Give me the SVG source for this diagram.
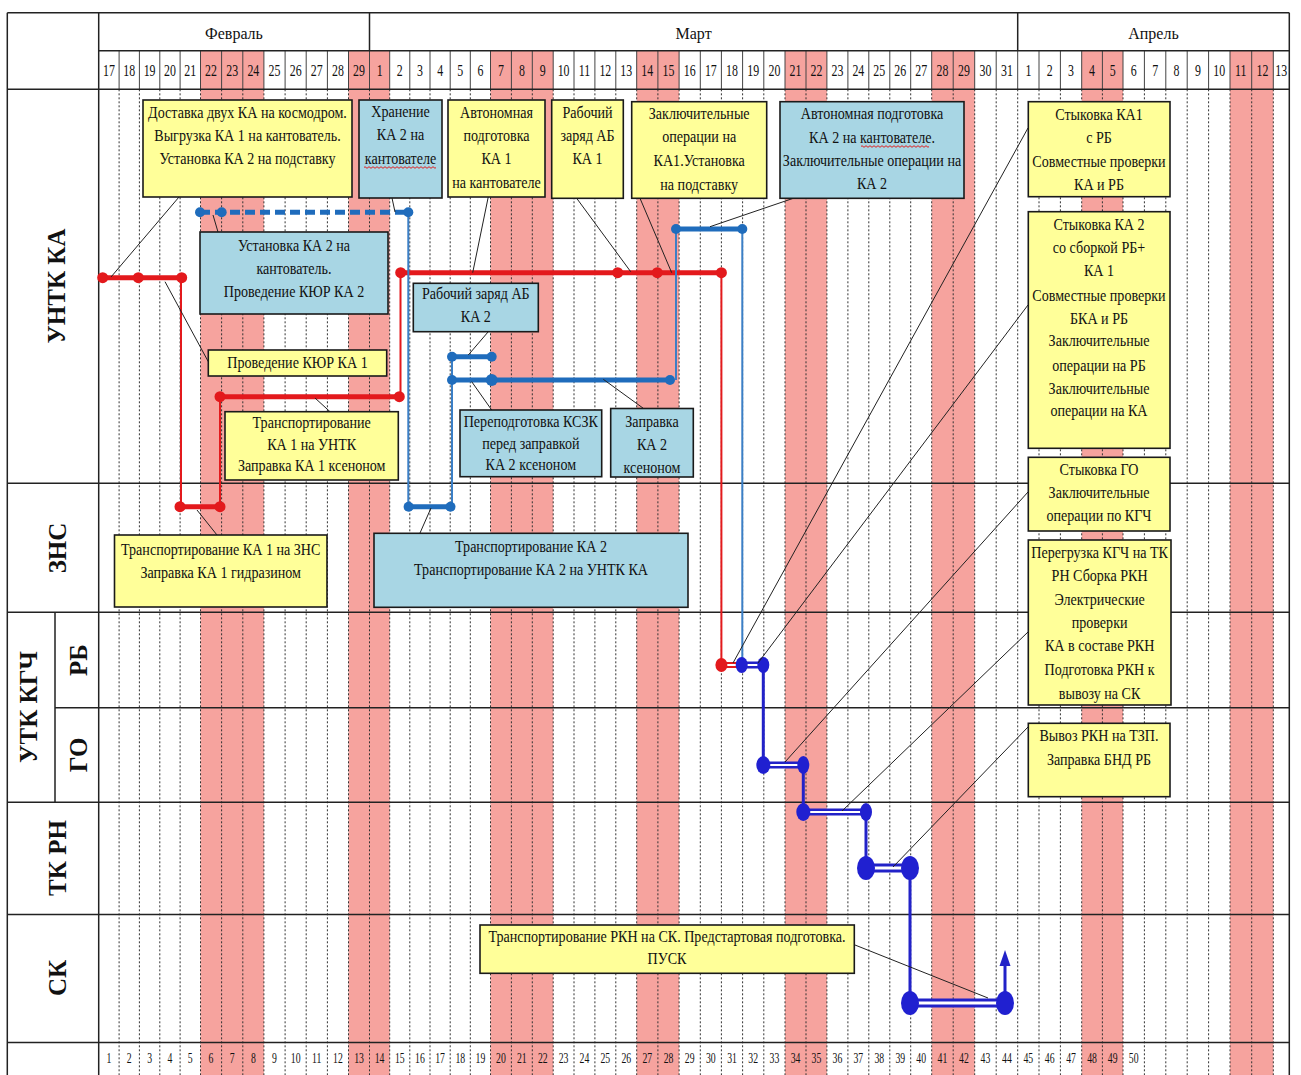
<svg xmlns="http://www.w3.org/2000/svg" width="1301" height="1075" viewBox="0 0 1301 1075">
<style>
.yb{fill:#ffff99;stroke:#1a1a1a;stroke-width:1.6}
.bb{fill:#a8d6e4;stroke:#1a1a1a;stroke-width:1.6}
.t{font-family:"Liberation Serif","Times New Roman",serif;font-size:16px;fill:#111;text-anchor:middle}
.hd{font-family:"Liberation Serif","Times New Roman",serif;font-size:17px;fill:#111;text-anchor:middle}
.bn{font-family:"Liberation Serif","Times New Roman",serif;font-size:15px;fill:#111;text-anchor:middle}
.mo{font-family:"Liberation Serif","Times New Roman",serif;font-size:16px;fill:#111;text-anchor:middle}
.lb{font-family:"Liberation Serif","Times New Roman",serif;font-size:25px;font-weight:bold;fill:#111;text-anchor:middle}
.cn{stroke:#222;stroke-width:1;fill:none}
.pk{fill:#f6a39e}
.dl{stroke:#333;stroke-width:1;stroke-dasharray:2 2;fill:none}
.sl{stroke:#222;stroke-width:1.5;fill:none}
.hl{stroke:#444;stroke-width:1;fill:none}
.red{stroke:#e3191c;stroke-width:5;fill:none}
.redv{stroke:#e3191c;stroke-width:2;fill:none}
.blu{stroke:#1f6cbc;stroke-width:5;fill:none}
.bluv{stroke:#3b7fc6;stroke-width:2;fill:none}
.dash{stroke:#1f6cbc;stroke-width:5;stroke-dasharray:10 5;fill:none}
.dk{stroke:#2222c8;fill:none}
.wh{stroke:#ffffff;fill:none}
.rd{fill:#e3191c}
.bd{fill:#1f6cbc}
.dd{fill:#2020d0}
.wv{stroke:#e02020;stroke-width:1;fill:none}
</style>

<rect x="0" y="0" width="1301" height="1075" fill="#ffffff"/>

<g id="grid">
  <g class="pk">
    <rect x="200.5" y="89.3" width="63.4" height="985.7"/>
    <rect x="348.5" y="89.3" width="41.2" height="985.7"/>
    <rect x="490.5" y="89.3" width="62.7" height="985.7"/>
    <rect x="636.7" y="89.3" width="42.4" height="985.7"/>
    <rect x="785" y="89.3" width="41.9" height="985.7"/>
    <rect x="931.7" y="89.3" width="43" height="985.7"/>
    <rect x="1081.7" y="89.3" width="41.3" height="985.7"/>
    <rect x="1230" y="89.3" width="43.3" height="985.7"/>
    <rect x="200.5" y="50.7" width="63.4" height="38.6"/>
    <rect x="348.5" y="50.7" width="41.2" height="38.6"/>
    <rect x="490.5" y="50.7" width="62.7" height="38.6"/>
    <rect x="636.7" y="50.7" width="42.4" height="38.6"/>
    <rect x="785" y="50.7" width="41.9" height="38.6"/>
    <rect x="931.7" y="50.7" width="43" height="38.6"/>
    <rect x="1081.7" y="50.7" width="41.3" height="38.6"/>
    <rect x="1230" y="50.7" width="43.3" height="38.6"/>
  </g>
  <path class="dl" d="M119.1 89.3V1075M139.4 89.3V1075M159.8 89.3V1075M180.1 89.3V1075M200.5 89.3V1075M221.6 89.3V1075M242.8 89.3V1075M263.9 89.3V1075M285.1 89.3V1075M306.2 89.3V1075M327.4 89.3V1075M348.5 89.3V1075M369.5 89.3V1075M389.7 89.3V1075M409.8 89.3V1075M430 89.3V1075M450.2 89.3V1075M470.3 89.3V1075M490.5 89.3V1075M511.4 89.3V1075M532.3 89.3V1075M553.2 89.3V1075M574 89.3V1075M594.9 89.3V1075M615.8 89.3V1075M636.7 89.3V1075M657.9 89.3V1075M679.1 89.3V1075M700.3 89.3V1075M721.4 89.3V1075M742.6 89.3V1075M763.8 89.3V1075M785 89.3V1075M806 89.3V1075M826.9 89.3V1075M847.9 89.3V1075M868.8 89.3V1075M889.8 89.3V1075M910.7 89.3V1075M931.7 89.3V1075M953.2 89.3V1075M974.7 89.3V1075M996.2 89.3V1075M1017.7 89.3V1075M1039 89.3V1075M1060.4 89.3V1075M1081.7 89.3V1075M1102.4 89.3V1075M1123 89.3V1075M1144.4 89.3V1075M1165.8 89.3V1075M1187.2 89.3V1075M1208.6 89.3V1075M1230 89.3V1075M1251.7 89.3V1075M1273.3 89.3V1075"/>
  <path class="hl" d="M119.1 50.7V89.3M139.4 50.7V89.3M159.8 50.7V89.3M180.1 50.7V89.3M200.5 50.7V89.3M221.6 50.7V89.3M242.8 50.7V89.3M263.9 50.7V89.3M285.1 50.7V89.3M306.2 50.7V89.3M327.4 50.7V89.3M348.5 50.7V89.3M369.5 50.7V89.3M389.7 50.7V89.3M409.8 50.7V89.3M430 50.7V89.3M450.2 50.7V89.3M470.3 50.7V89.3M490.5 50.7V89.3M511.4 50.7V89.3M532.3 50.7V89.3M553.2 50.7V89.3M574 50.7V89.3M594.9 50.7V89.3M615.8 50.7V89.3M636.7 50.7V89.3M657.9 50.7V89.3M679.1 50.7V89.3M700.3 50.7V89.3M721.4 50.7V89.3M742.6 50.7V89.3M763.8 50.7V89.3M785 50.7V89.3M806 50.7V89.3M826.9 50.7V89.3M847.9 50.7V89.3M868.8 50.7V89.3M889.8 50.7V89.3M910.7 50.7V89.3M931.7 50.7V89.3M953.2 50.7V89.3M974.7 50.7V89.3M996.2 50.7V89.3M1017.7 50.7V89.3M1039 50.7V89.3M1060.4 50.7V89.3M1081.7 50.7V89.3M1102.4 50.7V89.3M1123 50.7V89.3M1144.4 50.7V89.3M1165.8 50.7V89.3M1187.2 50.7V89.3M1208.6 50.7V89.3M1230 50.7V89.3M1251.7 50.7V89.3M1273.3 50.7V89.3"/>
  <path class="sl" d="M7.3 12.7H1289.3M98.7 50.7H1289.3M7.3 89.3H1289.3M7.3 483.3H1289.3M7.3 612.3H1289.3M55 707.7H1289.3M7.3 802.3H1289.3M7.3 914.5H1289.3M7.3 1042.5H1289.3M7.3 12.7V1075M98.7 12.7V1075M1289.3 12.7V1075M369.5 12.7V50.7M1017.7 12.7V50.7M55 612.3V802.3"/>
</g>

<g id="header">
  <text class="mo" x="234" y="39">Февраль</text>
  <text class="mo" x="693.6" y="39">Март</text>
  <text class="mo" x="1153.5" y="39">Апрель</text>
  <g class="hd">
    <text transform="translate(108.9 76) scale(0.7 1)">17</text><text transform="translate(129.25 76) scale(0.7 1)">18</text><text transform="translate(149.6 76) scale(0.7 1)">19</text><text transform="translate(169.95 76) scale(0.7 1)">20</text><text transform="translate(190.3 76) scale(0.7 1)">21</text><text transform="translate(211.05 76) scale(0.7 1)">22</text><text transform="translate(232.2 76) scale(0.7 1)">23</text><text transform="translate(253.35 76) scale(0.7 1)">24</text><text transform="translate(274.5 76) scale(0.7 1)">25</text><text transform="translate(295.65 76) scale(0.7 1)">26</text><text transform="translate(316.8 76) scale(0.7 1)">27</text><text transform="translate(337.95 76) scale(0.7 1)">28</text><text transform="translate(359 76) scale(0.7 1)">29</text>
    <text transform="translate(379.6 76) scale(0.7 1)">1</text><text transform="translate(399.75 76) scale(0.7 1)">2</text><text transform="translate(419.9 76) scale(0.7 1)">3</text><text transform="translate(440.1 76) scale(0.7 1)">4</text><text transform="translate(460.25 76) scale(0.7 1)">5</text><text transform="translate(480.4 76) scale(0.7 1)">6</text><text transform="translate(500.95 76) scale(0.7 1)">7</text><text transform="translate(521.85 76) scale(0.7 1)">8</text><text transform="translate(542.75 76) scale(0.7 1)">9</text><text transform="translate(563.6 76) scale(0.7 1)">10</text><text transform="translate(584.45 76) scale(0.7 1)">11</text><text transform="translate(605.35 76) scale(0.7 1)">12</text><text transform="translate(626.25 76) scale(0.7 1)">13</text><text transform="translate(647.3 76) scale(0.7 1)">14</text><text transform="translate(668.5 76) scale(0.7 1)">15</text><text transform="translate(689.7 76) scale(0.7 1)">16</text><text transform="translate(710.85 76) scale(0.7 1)">17</text><text transform="translate(732 76) scale(0.7 1)">18</text><text transform="translate(753.2 76) scale(0.7 1)">19</text><text transform="translate(774.4 76) scale(0.7 1)">20</text><text transform="translate(795.5 76) scale(0.7 1)">21</text><text transform="translate(816.45 76) scale(0.7 1)">22</text><text transform="translate(837.4 76) scale(0.7 1)">23</text><text transform="translate(858.35 76) scale(0.7 1)">24</text><text transform="translate(879.3 76) scale(0.7 1)">25</text><text transform="translate(900.25 76) scale(0.7 1)">26</text><text transform="translate(921.2 76) scale(0.7 1)">27</text><text transform="translate(942.45 76) scale(0.7 1)">28</text><text transform="translate(963.95 76) scale(0.7 1)">29</text><text transform="translate(985.45 76) scale(0.7 1)">30</text><text transform="translate(1006.95 76) scale(0.7 1)">31</text>
    <text transform="translate(1028.35 76) scale(0.7 1)">1</text><text transform="translate(1049.7 76) scale(0.7 1)">2</text><text transform="translate(1071.05 76) scale(0.7 1)">3</text><text transform="translate(1092.05 76) scale(0.7 1)">4</text><text transform="translate(1112.7 76) scale(0.7 1)">5</text><text transform="translate(1133.7 76) scale(0.7 1)">6</text><text transform="translate(1155.1 76) scale(0.7 1)">7</text><text transform="translate(1176.5 76) scale(0.7 1)">8</text><text transform="translate(1197.9 76) scale(0.7 1)">9</text><text transform="translate(1219.3 76) scale(0.7 1)">10</text><text transform="translate(1240.85 76) scale(0.7 1)">11</text><text transform="translate(1262.5 76) scale(0.7 1)">12</text><text transform="translate(1281.3 76) scale(0.7 1)">13</text>
  </g>
  <g class="bn">
    <text transform="translate(108.9 1063) scale(0.65 1)">1</text><text transform="translate(129.25 1063) scale(0.65 1)">2</text><text transform="translate(149.6 1063) scale(0.65 1)">3</text><text transform="translate(169.95 1063) scale(0.65 1)">4</text><text transform="translate(190.3 1063) scale(0.65 1)">5</text><text transform="translate(211.05 1063) scale(0.65 1)">6</text><text transform="translate(232.2 1063) scale(0.65 1)">7</text><text transform="translate(253.35 1063) scale(0.65 1)">8</text><text transform="translate(274.5 1063) scale(0.65 1)">9</text><text transform="translate(295.65 1063) scale(0.65 1)">10</text><text transform="translate(316.8 1063) scale(0.65 1)">11</text><text transform="translate(337.95 1063) scale(0.65 1)">12</text><text transform="translate(359 1063) scale(0.65 1)">13</text><text transform="translate(379.6 1063) scale(0.65 1)">14</text><text transform="translate(399.75 1063) scale(0.65 1)">15</text><text transform="translate(419.9 1063) scale(0.65 1)">16</text><text transform="translate(440.1 1063) scale(0.65 1)">17</text><text transform="translate(460.25 1063) scale(0.65 1)">18</text><text transform="translate(480.4 1063) scale(0.65 1)">19</text><text transform="translate(500.95 1063) scale(0.65 1)">20</text><text transform="translate(521.85 1063) scale(0.65 1)">21</text><text transform="translate(542.75 1063) scale(0.65 1)">22</text><text transform="translate(563.6 1063) scale(0.65 1)">23</text><text transform="translate(584.45 1063) scale(0.65 1)">24</text><text transform="translate(605.35 1063) scale(0.65 1)">25</text><text transform="translate(626.25 1063) scale(0.65 1)">26</text><text transform="translate(647.3 1063) scale(0.65 1)">27</text><text transform="translate(668.5 1063) scale(0.65 1)">28</text><text transform="translate(689.7 1063) scale(0.65 1)">29</text><text transform="translate(710.85 1063) scale(0.65 1)">30</text><text transform="translate(732 1063) scale(0.65 1)">31</text><text transform="translate(753.2 1063) scale(0.65 1)">32</text><text transform="translate(774.4 1063) scale(0.65 1)">33</text><text transform="translate(795.5 1063) scale(0.65 1)">34</text><text transform="translate(816.45 1063) scale(0.65 1)">35</text><text transform="translate(837.4 1063) scale(0.65 1)">36</text><text transform="translate(858.35 1063) scale(0.65 1)">37</text><text transform="translate(879.3 1063) scale(0.65 1)">38</text><text transform="translate(900.25 1063) scale(0.65 1)">39</text><text transform="translate(921.2 1063) scale(0.65 1)">40</text><text transform="translate(942.45 1063) scale(0.65 1)">41</text><text transform="translate(963.95 1063) scale(0.65 1)">42</text><text transform="translate(985.45 1063) scale(0.65 1)">43</text><text transform="translate(1006.95 1063) scale(0.65 1)">44</text><text transform="translate(1028.35 1063) scale(0.65 1)">45</text><text transform="translate(1049.7 1063) scale(0.65 1)">46</text><text transform="translate(1071.05 1063) scale(0.65 1)">47</text><text transform="translate(1092.05 1063) scale(0.65 1)">48</text><text transform="translate(1112.7 1063) scale(0.65 1)">49</text><text transform="translate(1133.7 1063) scale(0.65 1)">50</text>
  </g>
</g>

<g id="row-labels">
  <text class="lb" transform="translate(65 286) rotate(-90)">УНТК КА</text>
  <text class="lb" transform="translate(66 548) rotate(-90)">ЗНС</text>
  <text class="lb" transform="translate(37 707) rotate(-90)">УТК КГЧ</text>
  <text class="lb" transform="translate(87 660) rotate(-90)">РБ</text>
  <text class="lb" transform="translate(87 755) rotate(-90)">ГО</text>
  <text class="lb" transform="translate(66 858) rotate(-90)">ТК РН</text>
  <text class="lb" transform="translate(66 978) rotate(-90)">СК</text>
</g>

<g id="timeline">
  <path class="redv" d="M181 277.7V506.7M220 506.7V396.7M400.5 396.7V272.7M721.4 272.7V665"/>
  <path class="red" d="M102.7 277.7H181.5M180 506.7H220M220 396.7H399.5M400.7 272.7H721.4"/>
  <g class="rd">
    <circle cx="102.7" cy="277.7" r="5.5"/><circle cx="138.3" cy="277.7" r="5.5"/><circle cx="181.7" cy="277.7" r="5.5"/>
    <circle cx="180" cy="506.7" r="5.5"/><circle cx="220" cy="506.7" r="5.5"/>
    <circle cx="220" cy="396.7" r="5.5"/><circle cx="399.3" cy="396.7" r="5.5"/>
    <circle cx="400.7" cy="272.7" r="5.5"/><circle cx="617.7" cy="272.7" r="5.5"/><circle cx="657.3" cy="272.7" r="5.5"/><circle cx="721.4" cy="272.7" r="5.5"/>
  </g>
  <path class="bluv" d="M408.3 212.3V506.7M452 506.7V356.7M676 380V229M742.3 229V665"/>
  <path class="dash" d="M200 212.3H408.3"/>
  <path class="blu" d="M408.6 506.7H450.5M452 356.7H491.7M452 380H670M676 229H742.3"/>
  <g class="bd">
    <circle cx="200" cy="212.3" r="5"/><circle cx="221.7" cy="212.3" r="5"/><circle cx="408.3" cy="212.3" r="5"/>
    <circle cx="408.6" cy="506.7" r="5"/><circle cx="450.5" cy="506.7" r="5"/>
    <circle cx="452" cy="356.7" r="5"/><circle cx="491.7" cy="356.7" r="5"/>
    <circle cx="452" cy="380" r="5"/><circle cx="491.7" cy="380" r="6"/><circle cx="670" cy="380" r="5"/>
    <circle cx="676" cy="229" r="5"/><circle cx="742.3" cy="229" r="5"/>
  </g>
  <path d="M721.4 665H741.7" stroke="#e3191c" stroke-width="6" fill="none"/>
  <path class="wh" stroke-width="2" d="M721.4 665H741.7"/>
  <path class="dk" stroke-width="3" d="M763.3 665V765M803.3 765V812M866 812V868M910 868V1003M1005 1003V962"/>
  <path class="dk" stroke-width="7" d="M741.7 665H763.3M763.3 765H803.3M803.3 812H866"/>
  <path class="dk" stroke-width="9" d="M866 868H910M910 1003H1005"/>
  <path class="wh" stroke-width="2" d="M741.7 665H763.3M763.3 765H803.3M803.3 812H866"/>
  <path class="wh" stroke-width="3" d="M866 868H910M910 1003H1005"/>
  <polygon points="1005,950 999.5,966 1010.5,966" fill="#2222c8"/>
  <ellipse cx="721.4" cy="665" rx="6" ry="7" class="rd"/>
  <g class="dd">
    <ellipse cx="741.7" cy="665" rx="6" ry="8"/><ellipse cx="763.3" cy="665" rx="6" ry="8"/>
    <ellipse cx="763.3" cy="765" rx="7" ry="9"/><ellipse cx="803.3" cy="765" rx="6" ry="9"/>
    <ellipse cx="803.3" cy="812" rx="7" ry="9"/><ellipse cx="866" cy="812" rx="6" ry="9"/>
    <ellipse cx="866" cy="868" rx="9" ry="12"/><ellipse cx="910" cy="868" rx="9" ry="12"/>
    <ellipse cx="910" cy="1003" rx="9" ry="12"/><ellipse cx="1005" cy="1003" rx="9" ry="12"/>
  </g>
</g>

<g id="connectors" class="cn">
  <line x1="179" y1="197" x2="111" y2="277"/>
  <line x1="392" y1="198" x2="395" y2="212"/>
  <line x1="213" y1="215" x2="218" y2="232"/>
  <line x1="165" y1="281.7" x2="208.3" y2="361.7"/>
  <line x1="488.3" y1="196.7" x2="472.7" y2="272.7"/>
  <line x1="488.3" y1="331.7" x2="468.3" y2="355"/>
  <line x1="471.7" y1="381.7" x2="491.7" y2="410"/>
  <line x1="315" y1="398" x2="330" y2="411.7"/>
  <line x1="576.7" y1="198.3" x2="630.7" y2="271.7"/>
  <line x1="640" y1="198.3" x2="671.7" y2="272.7"/>
  <line x1="793.3" y1="198.3" x2="710" y2="226.7"/>
  <line x1="603.3" y1="379.3" x2="643.3" y2="408.3"/>
  <line x1="197" y1="510" x2="217" y2="535"/>
  <line x1="431" y1="508" x2="420" y2="533"/>
  <line x1="1028" y1="128" x2="733" y2="663"/>
  <line x1="1028" y1="305" x2="758" y2="663"/>
  <line x1="1028" y1="492" x2="785" y2="762"/>
  <line x1="1028" y1="632" x2="842" y2="811"/>
  <line x1="1028" y1="727" x2="893" y2="867"/>
  <line x1="855" y1="945" x2="988" y2="998"/>
</g>

<g id="n-delivery">
  <rect class="yb" x="143" y="100" width="209" height="97"/>
  <g class="t" transform="translate(247.5 0) scale(0.88 1)">
    <text x="0" y="118">Доставка двух КА на космодром.</text>
    <text x="0" y="141">Выгрузка КА 1 на кантователь.</text>
    <text x="0" y="164">Установка КА 2 на подставку</text>
  </g>
</g>
<g id="n-storage">
  <rect class="bb" x="359" y="100" width="83" height="98"/>
  <g class="t" transform="translate(400.5 0) scale(0.88 1)">
    <text x="0" y="117">Хранение</text>
    <text x="0" y="140">КА 2 на</text>
    <text x="0" y="164">кантователе</text>
  </g>
  <path class="wv" d="M364 167.5q1 -1.6 2 0t2 0t2 0t2 0t2 0t2 0t2 0t2 0t2 0t2 0t2 0t2 0t2 0t2 0t2 0t2 0t2 0t2 0t2 0t2 0t2 0t2 0t2 0t2 0t2 0t2 0t2 0t2 0t2 0t2 0t2 0t2 0t2 0t2 0t2 0t2 0"/>
</g>
<g id="n-auto1">
  <rect class="yb" x="448" y="100" width="97" height="97"/>
  <g class="t" transform="translate(496.5 0) scale(0.88 1)">
    <text x="0" y="118">Автономная</text>
    <text x="0" y="141">подготовка</text>
    <text x="0" y="164">КА 1</text>
    <text x="0" y="188">на кантователе</text>
  </g>
</g>
<g id="n-install2">
  <rect class="bb" x="200" y="232" width="188" height="82"/>
  <g class="t" transform="translate(294 0) scale(0.88 1)">
    <text x="0" y="251">Установка КА 2 на</text>
    <text x="0" y="274">кантователь.</text>
    <text x="0" y="297">Проведение КЮР КА 2</text>
  </g>
</g>
<g id="n-kyur1">
  <rect class="yb" x="208.3" y="350" width="178.4" height="26"/>
  <g class="t" transform="translate(297.5 0) scale(0.88 1)">
    <text x="0" y="368">Проведение КЮР КА 1</text>
  </g>
</g>
<g id="n-transport1">
  <rect class="yb" x="225" y="411.7" width="173.3" height="68.3"/>
  <g class="t" transform="translate(311.7 0) scale(0.88 1)">
    <text x="0" y="428">Транспортирование</text>
    <text x="0" y="450">КА 1 на УНТК</text>
    <text x="0" y="471">Заправка КА 1 ксеноном</text>
  </g>
</g>
<g id="n-charge2">
  <rect class="bb" x="413.3" y="283.3" width="125" height="48.4"/>
  <g class="t" transform="translate(475.8 0) scale(0.88 1)">
    <text x="0" y="299">Рабочий заряд АБ</text>
    <text x="0" y="322">КА 2</text>
  </g>
</g>
<g id="n-reprep">
  <rect class="bb" x="460" y="410" width="141.7" height="66.7"/>
  <g class="t" transform="translate(530.8 0) scale(0.88 1)">
    <text x="0" y="427">Переподготовка КСЗК</text>
    <text x="0" y="449">перед заправкой</text>
    <text x="0" y="470">КА 2 ксеноном</text>
  </g>
</g>
<g id="n-charge1">
  <rect class="yb" x="551.7" y="100" width="71.6" height="98.3"/>
  <g class="t" transform="translate(587.5 0) scale(0.88 1)">
    <text x="0" y="118">Рабочий</text>
    <text x="0" y="141">заряд АБ</text>
    <text x="0" y="164">КА 1</text>
  </g>
</g>
<g id="n-final1">
  <rect class="yb" x="631.7" y="101.7" width="135" height="96.6"/>
  <g class="t" transform="translate(699.2 0) scale(0.88 1)">
    <text x="0" y="119">Заключительные</text>
    <text x="0" y="142">операции на</text>
    <text x="0" y="166">КА1.Установка</text>
    <text x="0" y="190">на подставку</text>
  </g>
</g>
<g id="n-auto2">
  <rect class="bb" x="780" y="101.7" width="184" height="96.6"/>
  <g class="t" transform="translate(872 0) scale(0.88 1)">
    <text x="0" y="119">Автономная подготовка</text>
    <text x="0" y="143">КА 2 на кантователе.</text>
    <text x="0" y="166">Заключительные операции на</text>
    <text x="0" y="189">КА 2</text>
  </g>
  <path class="wv" d="M861 146.5q1 -1.6 2 0t2 0t2 0t2 0t2 0t2 0t2 0t2 0t2 0t2 0t2 0t2 0t2 0t2 0t2 0t2 0t2 0t2 0t2 0t2 0t2 0t2 0t2 0t2 0t2 0t2 0t2 0t2 0t2 0t2 0t2 0t2 0t2 0t2 0"/>
</g>
<g id="n-fuel2">
  <rect class="bb" x="610.7" y="408.5" width="82.6" height="68.5"/>
  <g class="t" transform="translate(652 0) scale(0.88 1)">
    <text x="0" y="427">Заправка</text>
    <text x="0" y="450">КА 2</text>
    <text x="0" y="473">ксеноном</text>
  </g>
</g>
<g id="n-zns1">
  <rect class="yb" x="114.5" y="535" width="212.5" height="72"/>
  <g class="t" transform="translate(220.7 0) scale(0.88 1)">
    <text x="0" y="555">Транспортирование КА 1 на ЗНС</text>
    <text x="0" y="578">Заправка КА 1 гидразином</text>
  </g>
</g>
<g id="n-zns2">
  <rect class="bb" x="374" y="533.3" width="314" height="74"/>
  <g class="t" transform="translate(531 0) scale(0.88 1)">
    <text x="0" y="552">Транспортирование КА 2</text>
    <text x="0" y="575">Транспортирование КА 2 на УНТК КА</text>
  </g>
</g>
<g id="n-dock1">
  <rect class="yb" x="1028.3" y="101.7" width="141.7" height="95"/>
  <g class="t" transform="translate(1099 0) scale(0.88 1)">
    <text x="0" y="120">Стыковка КА1</text>
    <text x="0" y="143">с РБ</text>
    <text x="0" y="167">Совместные проверки</text>
    <text x="0" y="190">КА и РБ</text>
  </g>
</g>
<g id="n-dock2">
  <rect class="yb" x="1028.3" y="211.7" width="141.7" height="236.6"/>
  <g class="t" transform="translate(1099 0) scale(0.88 1)">
    <text x="0" y="230">Стыковка КА 2</text>
    <text x="0" y="253">со сборкой РБ+</text>
    <text x="0" y="276">КА 1</text>
    <text x="0" y="301">Совместные проверки</text>
    <text x="0" y="324">БКА и РБ</text>
    <text x="0" y="346">Заключительные</text>
    <text x="0" y="371">операции на РБ</text>
    <text x="0" y="394">Заключительные</text>
    <text x="0" y="416">операции на КА</text>
  </g>
</g>
<g id="n-go">
  <rect class="yb" x="1028.3" y="457.3" width="141.7" height="73.7"/>
  <g class="t" transform="translate(1099 0) scale(0.88 1)">
    <text x="0" y="475">Стыковка ГО</text>
    <text x="0" y="498">Заключительные</text>
    <text x="0" y="521">операции по КГЧ</text>
  </g>
</g>
<g id="n-assembly">
  <rect class="yb" x="1028.3" y="540" width="142.7" height="165"/>
  <g class="t" transform="translate(1099.6 0) scale(0.88 1)">
    <text x="0" y="558">Перегрузка КГЧ на ТК</text>
    <text x="0" y="581">РН Сборка РКН</text>
    <text x="0" y="605">Электрические</text>
    <text x="0" y="628">проверки</text>
    <text x="0" y="651">КА в составе РКН</text>
    <text x="0" y="675">Подготовка РКН к</text>
    <text x="0" y="699">вывозу на СК</text>
  </g>
</g>
<g id="n-rollout">
  <rect class="yb" x="1028.3" y="723.3" width="141.7" height="73.4"/>
  <g class="t" transform="translate(1099 0) scale(0.88 1)">
    <text x="0" y="741">Вывоз РКН на ТЗП.</text>
    <text x="0" y="765">Заправка БНД РБ</text>
  </g>
</g>
<g id="n-launch">
  <rect class="yb" x="480" y="925" width="374.3" height="48.3"/>
  <g class="t" transform="translate(667 0) scale(0.88 1)">
    <text x="0" y="942">Транспортирование РКН на СК. Предстартовая подготовка.</text>
    <text x="0" y="964">ПУСК</text>
  </g>
</g>
</svg>
